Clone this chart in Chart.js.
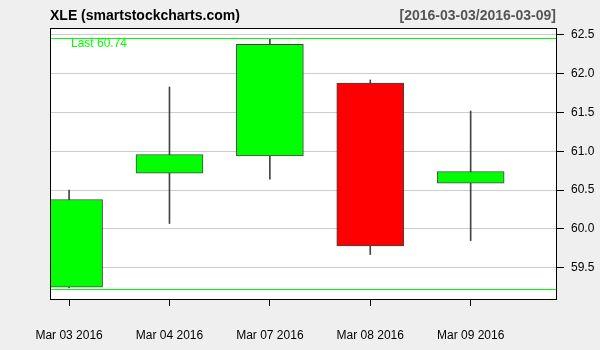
<!DOCTYPE html>
<html>
<head>
<meta charset="utf-8">
<script src="https://cdn.jsdelivr.net/npm/chart.js@4.4.1/dist/chart.umd.min.js"></script>
<style>
  html, body { margin: 0; padding: 0; background: #efefef; }
  #chart { display: block; }
</style>
</head>
<body>
<canvas id="chart" width="600" height="350"></canvas>
<script>
// XLE daily candles
const dates = ['Mar 03 2016', 'Mar 04 2016', 'Mar 07 2016', 'Mar 08 2016', 'Mar 09 2016'];
const opens = [59.25, 60.72, 60.94, 61.88, 60.59];
const highs = [60.50, 61.83, 62.45, 61.92, 61.52];
const lows = [59.24, 60.07, 60.64, 59.67, 59.85];
const closes = [60.38, 60.96, 62.38, 59.78, 60.74];
const yTicks = [59.5, 60.0, 60.5, 61.0, 61.5, 62.0, 62.5];
const levelLines = [62.46, 59.22];
const lastText = 'Last 60.74';
const titleText = 'XLE (smartstockcharts.com)';
const rangeText = '[2016-03-03/2016-03-09]';

const FONT = "'Liberation Sans', Arial, sans-serif";

const bodyColors = opens.map((o, i) => closes[i] >= o ? '#00ff00' : '#ff0000');

// fond, titres, lignes vertes et cadre
const decor = {
  id: 'decor',
  beforeDraw(chart) {
    const ctx = chart.ctx;
    const a = chart.chartArea;
    ctx.save();
    ctx.fillStyle = '#efefef';
    ctx.fillRect(0, 0, chart.width, chart.height);
    ctx.fillStyle = '#ffffff';
    ctx.fillRect(a.left, a.top, a.right - a.left, a.bottom - a.top);
    ctx.font = 'bold 14px ' + FONT;
    ctx.textBaseline = 'middle';
    ctx.fillStyle = '#000000';
    ctx.textAlign = 'left';
    ctx.fillText(titleText, a.left, 16);
    ctx.fillStyle = '#555555';
    ctx.textAlign = 'right';
    ctx.fillText(rangeText, a.right - 1, 16);
    ctx.restore();
  },
  afterDatasetsDraw(chart) {
    const ctx = chart.ctx;
    const a = chart.chartArea;
    const y = chart.scales.y;
    ctx.save();
    ctx.strokeStyle = '#00ff00';
    ctx.lineWidth = 1;
    levelLines.forEach(v => {
      const py = Math.round(y.getPixelForValue(v)) + 0.5;
      ctx.beginPath();
      ctx.moveTo(a.left, py);
      ctx.lineTo(a.right, py);
      ctx.stroke();
    });
    ctx.fillStyle = '#00ff00';
    ctx.font = '12px ' + FONT;
    ctx.textAlign = 'left';
    ctx.textBaseline = 'middle';
    ctx.fillText(lastText, a.left + 21, y.getPixelForValue(levelLines[0]) + 6);
    ctx.restore();
  },
  afterDraw(chart) {
    const ctx = chart.ctx;
    const a = chart.chartArea;
    ctx.save();
    ctx.strokeStyle = '#000000';
    ctx.lineWidth = 1;
    ctx.strokeRect(Math.round(a.left) + 0.5, Math.round(a.top) + 0.5,
      Math.round(a.right - a.left) - 1, Math.round(a.bottom - a.top));
    ctx.restore();
  }
};

new Chart(document.getElementById('chart'), {
  type: 'bar',
  data: {
    datasets: [
      {
        label: 'body',
        data: dates.map((d, i) => ({ x: i, y: [opens[i], closes[i]] })),
        backgroundColor: bodyColors,
        borderColor: '#444444',
        borderWidth: 1,
        borderSkipped: false,
        barThickness: 67,
        grouped: false
      },
      {
        label: 'wick',
        data: dates.map((d, i) => ({ x: i, y: [lows[i], highs[i]] })),
        backgroundColor: '#444444',
        borderWidth: 0,
        barThickness: 1,
        grouped: false
      }
    ]
  },
  options: {
    responsive: false,
    animation: false,
    layout: { padding: { left: 50, top: 28, right: 0, bottom: 0 } },
    plugins: {
      legend: { display: false },
      tooltip: { enabled: false }
    },
    scales: {
      x: {
        type: 'linear',
        offset: false,
        min: -0.19,
        max: 4.86,
        afterBuildTicks: s => { s.ticks = dates.map((d, i) => ({ value: i })); },
        afterFit: s => { s.height = 51; },
        grid: { offset: false, drawOnChartArea: false, tickLength: 7, tickColor: '#000000' },
        border: { display: false },
        ticks: {
          callback: v => dates[v],
          font: { family: FONT, size: 12 },
          color: '#000000',
          padding: 22,
          maxRotation: 0,
          autoSkip: false
        }
      },
      y: {
        position: 'right',
        min: 59.097,
        max: 62.59,
        afterBuildTicks: s => { s.ticks = yTicks.map(v => ({ value: v })); },
        afterFit: s => { s.width = 43; },
        grid: { color: '#cccccc', tickLength: 7, tickColor: '#000000' },
        border: { display: false },
        ticks: {
          callback: v => v.toFixed(1),
          font: { family: FONT, size: 12 },
          color: '#000000',
          padding: 7
        }
      }
    }
  },
  plugins: [decor]
});
</script>
</body>
</html>
